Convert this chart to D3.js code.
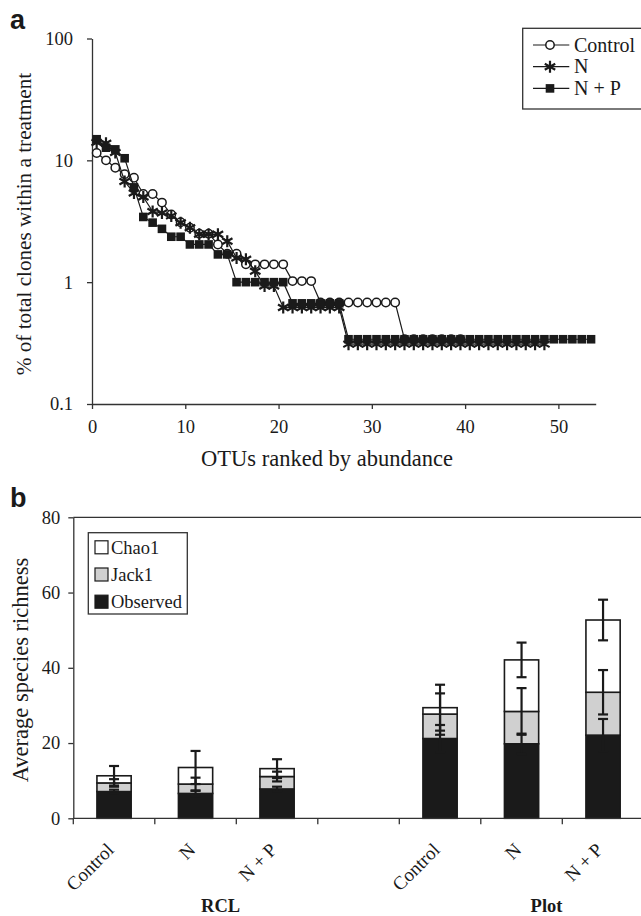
<!DOCTYPE html>
<html>
<head>
<meta charset="utf-8">
<script src="https://cdn.jsdelivr.net/npm/d3@7"></script>
<style>
	html, body { margin: 0; padding: 0; background: #fff; }
	svg { display: block; }
	.axis path, .axis line { stroke: #333; stroke-width: 1.3; }
</style>
</head>
<body>
<svg id="chart" width="641" height="916"></svg>
<script>
'use strict';

// panel a - rank abundance (% of clones), one value per OTU rank
var controlPct = [11.5, 10.0, 8.7, 7.7, 7.2, 5.3, 5.3, 4.5, 3.6, 3.1, 2.8, 2.5, 2.5, 2.04, 1.71, 1.71,
	1.4, 1.4, 1.4, 1.4, 1.4, 1.02, 1.02, 1.02, 0.68, 0.68, 0.68, 0.68, 0.68, 0.68, 0.68, 0.68, 0.68,
	0.34, 0.34, 0.34, 0.34, 0.34, 0.34, 0.34];
var nPct = [14.0, 13.8, 11.6, 6.7, 5.4, 5.0, 3.8, 3.7, 3.5, 3.07, 2.8, 2.47, 2.47, 2.47, 2.17, 1.58,
	1.54, 1.23, 0.93, 0.93, 0.62, 0.62, 0.62, 0.62, 0.62, 0.62, 0.62,
	0.31, 0.31, 0.31, 0.31, 0.31, 0.31, 0.31, 0.31, 0.31, 0.31, 0.31, 0.31, 0.31, 0.31, 0.31, 0.31,
	0.31, 0.31, 0.31, 0.31, 0.31, 0.31];
var npPct = [14.9, 12.7, 12.3, 10.4, 6.0, 3.43, 3.08, 2.74, 2.36, 2.36, 2.04, 2.04, 2.04, 1.69, 1.69,
	1.0, 1.0, 1.0, 1.0, 1.0, 1.0, 0.67, 0.67, 0.67, 0.67, 0.67, 0.67,
	0.34, 0.34, 0.34, 0.34, 0.34, 0.34, 0.34, 0.34, 0.34, 0.34, 0.34, 0.34, 0.34, 0.34, 0.34, 0.34,
	0.34, 0.34, 0.34, 0.34, 0.34, 0.34, 0.34, 0.34, 0.34, 0.34, 0.34];
var seriesNames = ["Control", "N", "N + P"];
var rankTicks = [0, 10, 20, 30, 40, 50];
var pctTicks = [0.1, 1, 10, 100];

// panel b - stacked richness estimates (cumulative heights), blank slot between sites
var barCats = ["Control", "N", "N + P", "", "Control", "N", "N + P"];
var siteNames = ["RCL", "Plot"];
var observed = [7.1, 6.6, 7.8, null, 21.2, 19.8, 22.1];
var jack1 = [9.4, 9.1, 11.1, null, 27.7, 28.4, 33.5];
var chao1 = [11.3, 13.5, 13.2, null, 29.4, 42.1, 52.7];
var observedErr = [0.5, 0.7, 0.6, null, 3.6, 2.7, 4.3];
var jack1Err = [1.0, 1.7, 1.3, null, 5.5, 6.2, 5.9];
var chao1Err = [2.6, 4.4, 2.5, null, 6.1, 4.6, 5.4];
var richTicks = [0, 20, 40, 60, 80];

var INK = "#1a1a1a";
var SERIF = "'Liberation Serif', 'Times New Roman', Times, serif";
var SANS = "'Liberation Sans', Arial, sans-serif";

var svg = d3.select("#chart").attr("font-family", SERIF);

//strip the d3 axis font defaults so the serif face is used
function tickText(size) {
	return function(g) {
		g.attr("font-family", null).attr("font-size", null);
		g.selectAll("text").attr("font-family", SERIF).style("font-size", size).attr("fill", INK);
	};
}

// ---------------- panel a ----------------
var xa = d3.scaleLinear().domain([0, 54]).range([92, 595.7]);
var ya = d3.scaleLog().domain([0.1, 100]).range([404, 38.5]);

svg.append("text").attr("x", 10).attr("y", 29).attr("font-family", SANS)
	.style("font-weight", "bold").style("font-size", "27px").attr("fill", INK).text("a");

svg.append("g").attr("class", "axis").attr("transform", "translate(0,404)")
	.call(d3.axisBottom(xa).tickValues(rankTicks).tickSize(5).tickPadding(11).tickSizeOuter(0))
	.call(tickText("18.5px"));

svg.append("g").attr("class", "axis").attr("transform", "translate(92,0)")
	.call(d3.axisLeft(ya).tickValues(pctTicks).tickFormat(d3.format("~g")).tickSize(5).tickPadding(14).tickSizeOuter(0))
	.call(tickText("18.5px"));

svg.append("text").attr("x", 327).attr("y", 466).attr("text-anchor", "middle").attr("fill", INK)
	.style("font-size", "22.5px").text("OTUs ranked by abundance");
svg.append("text").attr("transform", "translate(31,224) rotate(-90)").attr("text-anchor", "middle")
	.attr("fill", INK).style("font-size", "21.2px").text("% of total clones within a treatment");

function starPath(r) {
	var c = r * 0.87, s = r * 0.5;
	return "M0," + (-r) + "L0," + r + "M" + (-c) + "," + (-s) + "L" + c + "," + s +
		"M" + (-c) + "," + s + "L" + c + "," + (-s);
}

function drawMarker(g, kind) {
	if (kind === 0) {
		g.append("circle").attr("r", 4.2).attr("fill", "#fff").attr("stroke", INK).attr("stroke-width", 1.5);
	} else if (kind === 1) {
		g.append("path").attr("d", starPath(6)).attr("stroke", INK).attr("stroke-width", 2.2).attr("fill", "none");
	} else {
		g.append("rect").attr("x", -4.3).attr("y", -4.3).attr("width", 8.6).attr("height", 8.6).attr("fill", INK);
	}
}

var lineA = d3.line()
	.x(function(d, i) { return xa(i + 0.5); })
	.y(function(d) { return ya(d); });

[controlPct, nPct, npPct].forEach(function(vals, k) {
	var g = svg.append("g");
	g.append("path").datum(vals).attr("d", lineA)
		.attr("fill", "none").attr("stroke", INK).attr("stroke-width", 1.2);
	g.selectAll("g.pt").data(vals).enter().append("g").attr("class", "pt")
		.attr("transform", function(d, i) { return "translate(" + xa(i + 0.5) + "," + ya(d) + ")"; })
		.each(function() { drawMarker(d3.select(this), k); });
});

// legend a
var legA = svg.append("g");
legA.append("rect").attr("x", 522.7).attr("y", 28.3).attr("width", 140).attr("height", 80.7)
	.attr("fill", "#fff").attr("stroke", "#333").attr("stroke-width", 1.3);
seriesNames.forEach(function(name, k) {
	var yy = 45 + k * 21.7;
	legA.append("line").attr("x1", 533).attr("x2", 569.3).attr("y1", yy).attr("y2", yy)
		.attr("stroke", INK).attr("stroke-width", 1.2);
	drawMarker(legA.append("g").attr("transform", "translate(550," + yy + ")"), k);
	legA.append("text").attr("x", 574).attr("y", yy + 6.5).attr("fill", INK)
		.style("font-size", "20px").text(name);
});

// ---------------- panel b ----------------
var xb = d3.scaleBand().domain(d3.range(barCats.length)).range([73.3, 643.8]).padding(0);
var yb = d3.scaleLinear().domain([0, 80]).range([818.3, 517.3]);
var barW = xb.bandwidth() * 0.42;

svg.append("text").attr("x", 10).attr("y", 506.7).attr("font-family", SANS)
	.style("font-weight", "bold").style("font-size", "27px").attr("fill", INK).text("b");

svg.append("line").attr("x1", 73.3).attr("x2", 641).attr("y1", yb(80)).attr("y2", yb(80))
	.attr("stroke", "#333").attr("stroke-width", 1.3);

var layers = [
	{ top: observed, base: null, err: observedErr, fill: INK },
	{ top: jack1, base: observed, err: jack1Err, fill: "#d0d0d0" },
	{ top: chao1, base: jack1, err: chao1Err, fill: "#fff" }
];

var bars = svg.append("g");
layers.forEach(function(L) {
	L.top.forEach(function(v, i) {
		if (v === null) { return; }
		var b = L.base ? L.base[i] : 0;
		bars.append("rect")
			.attr("x", xb(i) + (xb.bandwidth() - barW) / 2).attr("width", barW)
			.attr("y", yb(v)).attr("height", yb(b) - yb(v))
			.attr("fill", L.fill).attr("stroke", INK).attr("stroke-width", 1.6);
	});
});

// error bars on each segment
var errs = svg.append("g").attr("stroke", INK).attr("stroke-width", 2.2);
layers.forEach(function(L) {
	L.top.forEach(function(v, i) {
		if (v === null) { return; }
		var cx = xb(i) + xb.bandwidth() / 2;
		var hi = yb(v + L.err[i]), lo = yb(v - L.err[i]);
		errs.append("line").attr("x1", cx).attr("x2", cx).attr("y1", hi).attr("y2", lo);
		errs.append("line").attr("x1", cx - 5).attr("x2", cx + 5).attr("y1", hi).attr("y2", hi);
		errs.append("line").attr("x1", cx - 5).attr("x2", cx + 5).attr("y1", lo).attr("y2", lo);
	});
});

svg.append("g").attr("class", "axis").attr("transform", "translate(73.3,0)")
	.call(d3.axisLeft(yb).tickValues(richTicks).tickSize(5).tickPadding(8).tickSizeOuter(0))
	.call(tickText("18.5px"));

var xAxisB = svg.append("g").attr("class", "axis").attr("transform", "translate(0,818.3)");
xAxisB.append("line").attr("x1", 73.3).attr("x2", 641).attr("y1", 0).attr("y2", 0);
xAxisB.selectAll("line.tk").data(d3.range(barCats.length)).enter().append("line").attr("class", "tk")
	.attr("x1", function(d) { return xb(d); }).attr("x2", function(d) { return xb(d); })
	.attr("y1", 0).attr("y2", 6);

svg.selectAll("text.cat").data(barCats).enter().append("text").attr("class", "cat")
	.attr("text-anchor", "end").attr("fill", INK)
	.attr("transform", function(d, i) {
		return "translate(" + (xb(i) + xb.bandwidth() / 2 + 1) + ",851) rotate(-45)";
	})
	.style("font-size", "19px").text(function(d) { return d; });

// site labels under each group of three
siteNames.forEach(function(name, k) {
	var mid = xb(k * 4 + 1) + xb.bandwidth() / 2 + 25;
	svg.append("text").attr("x", mid).attr("y", 911.5).attr("text-anchor", "middle").attr("fill", INK)
		.style("font-size", "18.5px").style("font-weight", "bold").text(name);
});

svg.append("text").attr("transform", "translate(27.5,670) rotate(-90)").attr("text-anchor", "middle")
	.attr("fill", INK).style("font-size", "22.5px").text("Average species richness");

// legend b
var legB = svg.append("g");
legB.append("rect").attr("x", 88.3).attr("y", 532.7).attr("width", 99).attr("height", 81.3)
	.attr("fill", "#fff").attr("stroke", "#333").attr("stroke-width", 1.3);
[["Chao1", "#fff"], ["Jack1", "#d0d0d0"], ["Observed", INK]].forEach(function(e, k) {
	var yy = 547.3 + k * 27.2;
	legB.append("rect").attr("x", 95).attr("y", yy - 6.5).attr("width", 13).attr("height", 13)
		.attr("fill", e[1]).attr("stroke", INK).attr("stroke-width", 1.2);
	legB.append("text").attr("x", 111).attr("y", yy + 6.5).attr("fill", INK)
		.style("font-size", "18.5px").text(e[0]);
});
</script>
</body>
</html>
